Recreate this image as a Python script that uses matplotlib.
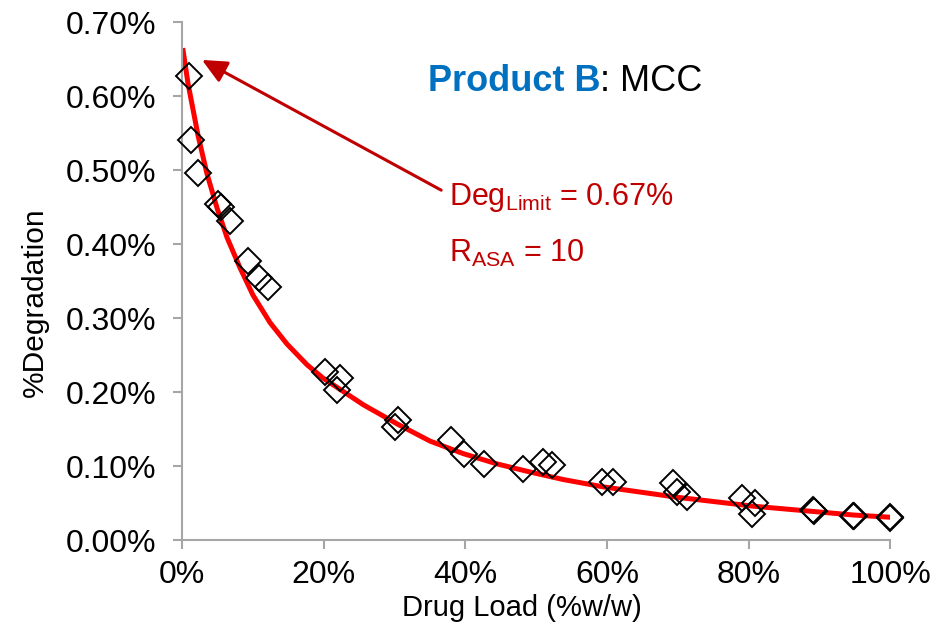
import matplotlib
matplotlib.use("Agg")
import matplotlib.pyplot as plt
from matplotlib.ticker import FuncFormatter, MultipleLocator
from matplotlib.transforms import offset_copy

plt.rcParams['font.family'] = ['Liberation Sans', 'DejaVu Sans']
plt.rcParams['mathtext.default'] = 'regular'

# measured degradation vs drug load (both in %)
drug_load = [0.99, 1.27, 2.26, 5.08, 5.51, 6.78, 9.32, 10.88, 12.15,
             20.2, 22.3, 21.9, 30.5, 30.1, 38.0, 39.8, 42.7, 48.2,
             51.0, 52.3, 59.3, 60.9, 69.4, 69.9, 71.3, 79.1, 80.9, 80.5,
             89.1, 89.3, 94.8, 94.9, 100.0, 100.0]
degradation = [0.627, 0.541, 0.496, 0.454, 0.450, 0.432, 0.377, 0.354, 0.342,
               0.227, 0.219, 0.203, 0.162, 0.153, 0.135, 0.117, 0.103, 0.096,
               0.105, 0.101, 0.078, 0.078, 0.077, 0.065, 0.058, 0.057, 0.050, 0.036,
               0.041, 0.039, 0.033, 0.032, 0.031, 0.030]

# fitted model curve
fit_x = [0.1, 0.85, 2.26, 3.53, 4.94, 6.36, 8.19, 10.03, 12.43, 14.83, 17.66,
         19.92, 25.6, 30.4, 35.0, 39.7, 44.5, 49.2, 53.8, 59.5, 69.9, 80.6, 94.8, 100]
fit_y = [0.665, 0.617, 0.547, 0.495, 0.449, 0.409, 0.368, 0.331, 0.294, 0.265, 0.237,
         0.219, 0.183, 0.157, 0.134, 0.117, 0.103, 0.092, 0.082, 0.072, 0.058, 0.046, 0.034, 0.031]

deg_limit = 0.67
r_asa = 10

fig = plt.figure(figsize=(9.48, 6.34), dpi=100)
ax = fig.add_axes([0.192, 0.148, 0.747, 0.817])

ax.plot(fit_x, fit_y, color='#FF0000', lw=3.6, solid_capstyle='butt',
        solid_joinstyle='round', zorder=2)
ax.plot(drug_load, degradation, ls='none', marker='D', ms=13, mfc='none',
        mec='black', mew=1.4, zorder=3, clip_on=False)

ax.set_xlim(0, 100)
ax.set_ylim(0, 0.70)
ax.xaxis.set_major_locator(MultipleLocator(20))
ax.yaxis.set_major_locator(MultipleLocator(0.1))
ax.xaxis.set_major_formatter(FuncFormatter(lambda v, p: f"{v:.0f}%"))
ax.yaxis.set_major_formatter(FuncFormatter(lambda v, p: f"{v:.2f}%"))

for s in ['top', 'right']:
    ax.spines[s].set_visible(False)
for s in ['left', 'bottom']:
    ax.spines[s].set_color('#A6A6A6')
    ax.spines[s].set_linewidth(1.5)
ax.tick_params(axis='both', colors='#A6A6A6', width=1.5, length=6.5,
               labelsize=23, labelcolor='black')
ax.tick_params(axis='y', pad=12)
ax.tick_params(axis='x', pad=8)

ax.set_xlabel('Drug Load (%w/w)', fontsize=21)
ax.set_ylabel('%Degradation', fontsize=21.5)
ax.xaxis.set_label_coords(0.48, -0.131)
ax.yaxis.set_label_coords(-0.208, 0.46)
ax.xaxis.label.set_va('center')
ax.yaxis.label.set_va('center')

# title inside the plot, two colours
t1 = ax.text(34.7, 0.607, 'Product B', color='#0070C0', fontsize=26,
             fontweight='bold', va='baseline')
fig.canvas.draw()
w = t1.get_window_extent().width
ax.text(34.7, 0.607, ': MCC', color='black', fontsize=26, va='baseline',
        transform=offset_copy(ax.transData, fig=fig, x=w, y=0, units='dots'))

ax.annotate('', xy=(2.82, 0.649), xytext=(36.6, 0.473),
            arrowprops=dict(arrowstyle='-|>,head_length=0.75,head_width=0.35',
                            mutation_scale=20, color='#C00000', lw=2.2,
                            shrinkA=0, shrinkB=0))
ax.text(37.7, 0.453, 'Deg$_{Limit}$ = ' + f'{deg_limit:.2f}%', color='#C00000',
        fontsize=22, va='baseline')
ax.text(37.7, 0.376, 'R$_{ASA}$ = ' + f'{r_asa}', color='#C00000',
        fontsize=22, va='baseline')

fig.savefig('out.png', dpi=100)
